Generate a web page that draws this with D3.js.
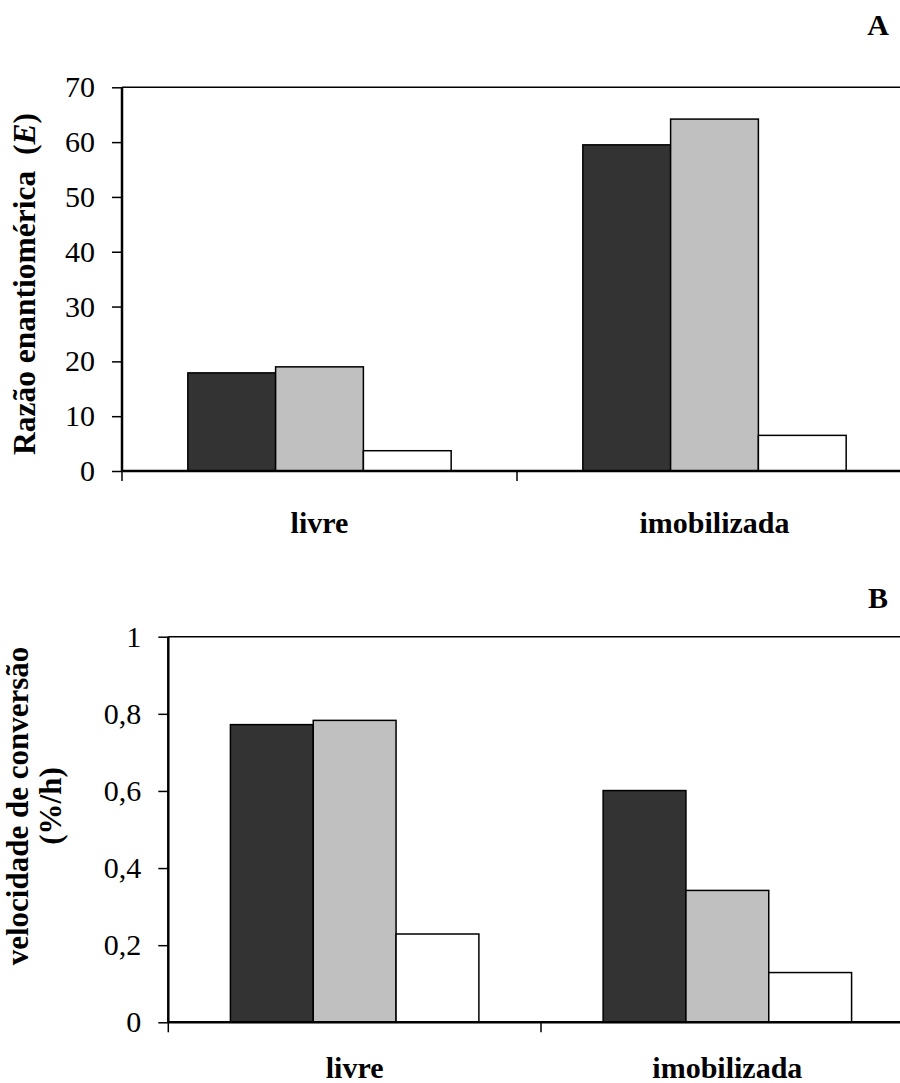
<!DOCTYPE html>
<html>
<head>
<meta charset="utf-8">
<script src="https://cdn.jsdelivr.net/npm/d3@7"></script>
<style>
  html, body { margin: 0; padding: 0; background: #fff; }
  svg { display: block; font-family: 'Liberation Serif', 'Times New Roman', serif; }
</style>
</head>
<body>
<div id="chart"></div>
<script>
// categorias e séries
var categories = ['livre', 'imobilizada']
var series = ['s1', 's2', 's3']
var seriesColors = ['#333333', '#c0c0c0', '#ffffff']

// A: razão enantiomérica (E), por categoria -> [s1, s2, s3]
var razaoLivre = [17.9, 19.0, 3.7]
var razaoImob = [59.5, 64.2, 6.5]
var razaoTicks = [0, 10, 20, 30, 40, 50, 60, 70]

// B: velocidade de conversão (%/h)
var velLivre = [0.772, 0.783, 0.229]
var velImob = [0.601, 0.342, 0.129]
var velTicks = [0, 0.2, 0.4, 0.6, 0.8, 1]

var width = 900
var height = 1083

var svg = d3.select('#chart').append('svg')
  .attr('width', width)
  .attr('height', height)

function panel (opt) {
  var g = svg.append('g')

  var x0 = d3.scaleBand()
    .domain(categories)
    .range([opt.left, opt.right])
    .padding(0)

  // gap width 150% como no Excel
  var x1 = d3.scaleBand()
    .domain(series)
    .range([0, x0.bandwidth()])
    .paddingInner(0)
    .paddingOuter(0.75)

  var y = d3.scaleLinear()
    .domain([0, opt.max])
    .range([opt.bottom, opt.top])

  // borda superior da área do gráfico
  g.append('line')
    .attr('x1', opt.left).attr('x2', opt.right)
    .attr('y1', opt.top).attr('y2', opt.top)
    .attr('stroke', '#000').attr('stroke-width', 1.5)

  // barras
  var rows = categories.map(function (c, i) {
    return { cat: c, values: opt.values[i] }
  })
  var grp = g.selectAll('.grp').data(rows).enter().append('g')
    .attr('class', 'grp')
    .attr('transform', function (d) { return 'translate(' + x0(d.cat) + ',0)' })

  grp.selectAll('rect')
    .data(function (d) {
      return series.map(function (s, j) { return { s: s, j: j, v: d.values[j] } })
    })
    .enter().append('rect')
    .attr('x', function (d) { return x1(d.s) })
    .attr('width', x1.bandwidth())
    .attr('y', function (d) { return y(d.v) })
    .attr('height', function (d) { return y(0) - y(d.v) })
    .attr('fill', function (d) { return seriesColors[d.j] })
    .attr('stroke', '#000')
    .attr('stroke-width', 1.5)

  // eixo y
  var yAxis = d3.axisLeft(y)
    .tickValues(opt.ticks)
    .tickSize(10)
    .tickSizeOuter(0)
    .tickPadding(17)
    .tickFormat(opt.format)

  var ya = g.append('g')
    .attr('transform', 'translate(' + opt.left + ',0)')
    .call(yAxis)
  ya.select('.domain').remove()
  ya.selectAll('.tick line').attr('stroke-width', 1.5)
  ya.selectAll('.tick text')
    .attr('font-family', "'Liberation Serif', serif")
    .attr('font-size', 30)
    .attr('fill', '#000')

  // marcas do eixo x nas fronteiras das categorias
  var bounds = categories.map(function (c) { return x0(c) }).concat([opt.right])
  g.selectAll('.xtick').data(bounds).enter().append('line')
    .attr('class', 'xtick')
    .attr('x1', function (d) { return d }).attr('x2', function (d) { return d })
    .attr('y1', opt.bottom).attr('y2', opt.bottom + 10)
    .attr('stroke', '#000').attr('stroke-width', 1.5)

  // linhas dos eixos
  g.append('line')
    .attr('x1', opt.left).attr('x2', opt.left)
    .attr('y1', opt.top).attr('y2', opt.bottom)
    .attr('stroke', '#000').attr('stroke-width', 2.5)
  g.append('line')
    .attr('x1', opt.left).attr('x2', opt.right)
    .attr('y1', opt.bottom).attr('y2', opt.bottom)
    .attr('stroke', '#000').attr('stroke-width', 2.5)

  // rótulos das categorias
  g.selectAll('.cat').data(categories).enter().append('text')
    .attr('class', 'cat')
    .attr('x', function (d) { return x0(d) + x0.bandwidth() / 2 })
    .attr('y', opt.bottom + opt.catDy)
    .attr('text-anchor', 'middle')
    .attr('font-size', 30)
    .attr('font-weight', 'bold')
    .text(function (d) { return d })

  // letra do painel
  g.append('text')
    .attr('x', 878)
    .attr('y', opt.letterY)
    .attr('text-anchor', 'middle')
    .attr('font-size', 30)
    .attr('font-weight', 'bold')
    .text(opt.letter)

  return g
}

var fmtComma = function (d) { return String(d).replace('.', ',') }

var gA = panel({
  left: 122, right: 912, top: 87.3, bottom: 471,
  max: 70, ticks: razaoTicks, format: fmtComma,
  values: [razaoLivre, razaoImob],
  catDy: 62, letter: 'A', letterY: 35
})

var gB = panel({
  left: 168.3, right: 913.7, top: 636.7, bottom: 1022.3,
  max: 1, ticks: velTicks, format: fmtComma,
  values: [velLivre, velImob],
  catDy: 56, letter: 'B', letterY: 608
})

// título do eixo y - A
var tA = gA.append('text')
  .attr('transform', 'translate(35,284)rotate(-90)')
  .attr('text-anchor', 'middle')
  .attr('font-size', 31.5)
  .attr('font-weight', 'bold')
tA.append('tspan').text('Razão enantiomérica\u00a0 (')
tA.append('tspan').attr('font-style', 'italic').text('E')
tA.append('tspan').text(')')

// título do eixo y - B (duas linhas)
var tB = gB.append('g').attr('transform', 'translate(0,806)rotate(-90)')
tB.append('text')
  .attr('x', 0).attr('y', 28)
  .attr('text-anchor', 'middle')
  .attr('font-size', 31)
  .attr('font-weight', 'bold')
  .text('velocidade de conversão')
tB.append('text')
  .attr('x', 0).attr('y', 61)
  .attr('text-anchor', 'middle')
  .attr('font-size', 31)
  .attr('font-weight', 'bold')
  .text('(%/h)')
</script>
</body>
</html>
